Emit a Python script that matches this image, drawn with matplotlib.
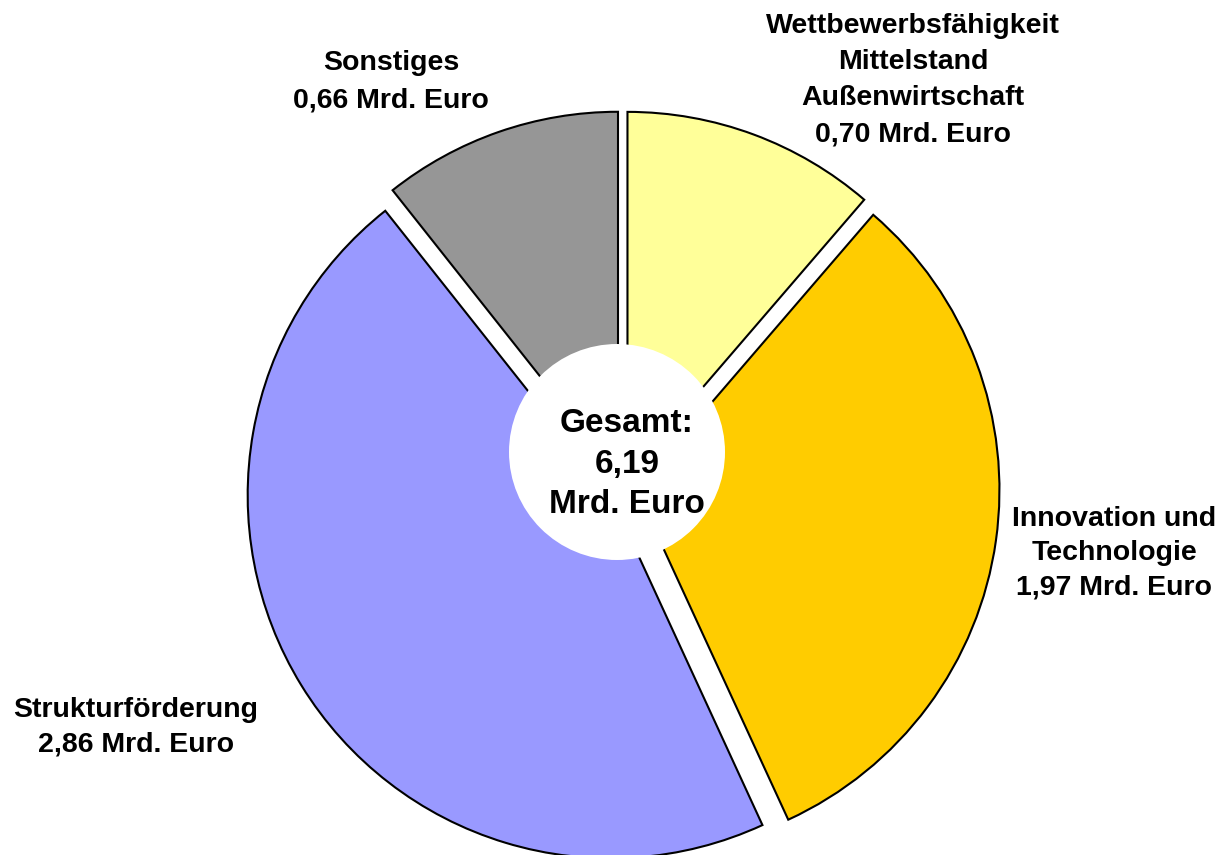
import matplotlib
matplotlib.use("Agg")
import matplotlib.pyplot as plt
from matplotlib.patches import Circle

plt.rcParams['font.family'] = ['Liberation Sans', 'DejaVu Sans']

categories = ["Wettbewerbsfähigkeit\nMittelstand\nAußenwirtschaft",
              "Innovation und\nTechnologie",
              "Strukturförderung",
              "Sonstiges"]
values = [0.70, 1.97, 2.86, 0.66]
total = 6.19
colors = ["#FFFF99", "#FFCC00", "#9999FF", "#969696"]

W, H = 1222, 855
R = 363.0
cx, cy = 622.6, 488.0   # pie centre in pixels (y from top)

def px(x, y):
    return ((x - cx) / R, (cy - y) / R)

fig = plt.figure(figsize=(W / 100, H / 100), dpi=100)
ax = fig.add_axes([0, 0, 1, 1])

ax.pie(values, startangle=90, counterclock=False, colors=colors,
       explode=[14 / R] * len(values), radius=1.0,
       wedgeprops=dict(edgecolor='black', linewidth=1.5))

ax.set_xlim(-cx / R, (W - cx) / R)
ax.set_ylim(-(H - cy) / R, cy / R)
ax.set_aspect('equal')
ax.axis('off')

ccx, ccy = px(617, 452)
ax.add_patch(Circle((ccx, ccy), 108 / R, facecolor='white', edgecolor='none', zorder=5))

def fmt(v):
    return f"{v:.2f}".replace('.', ',') + " Mrd. Euro"

label_pos = [(913, 80), (1114, 553), (136, 727), (391, 82)]
label_ls = [1.5, 1.42, 1.45, 1.55]
for cat, v, (lx, ly), ls in zip(categories, values, label_pos, label_ls):
    x, y = px(lx, ly)
    ax.text(x, y, cat + "\n" + fmt(v), ha='center', va='center', fontsize=20.5,
            fontweight='bold', linespacing=ls, zorder=6)

x, y = px(627, 464)
ax.text(x, y, "Gesamt:\n" + f"{total:.2f}".replace('.', ',') + "\nMrd. Euro",
        ha='center', va='center', fontsize=24, fontweight='bold', linespacing=1.4, zorder=6)

fig.savefig("out.png", dpi=100)
